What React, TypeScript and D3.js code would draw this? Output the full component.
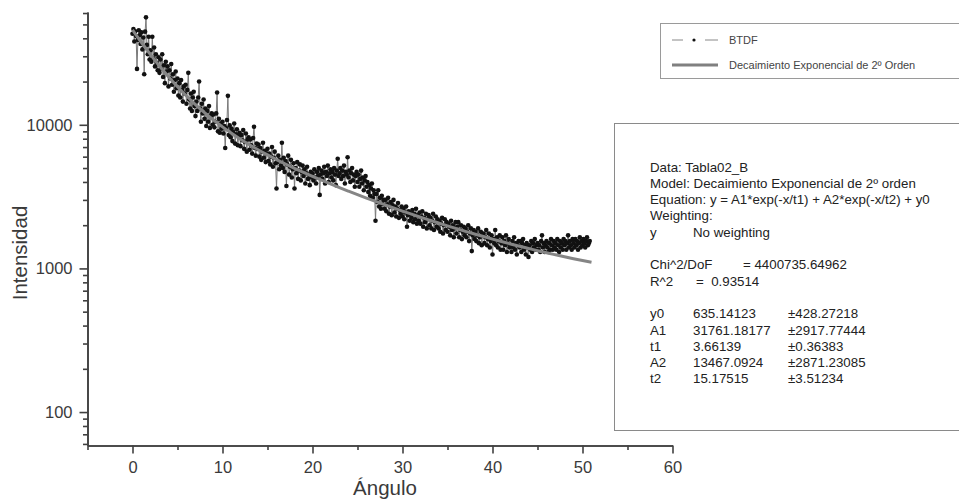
import React, { useEffect, useRef } from 'react';
import * as d3 from 'd3';

const width = 959;
const height = 502;
const font = '"Liberation Sans", Arial, sans-serif';
const axisColor = '#404040';

// BTDF, one reading every 0.1 degree (0 .. 50.8)
const step = 0.1;
const btdf = [
  43000, 46500, 38000, 44800, 41500, 24500, 39000, 45500, 42000, 36500,
  44000, 33500, 40500, 22500, 44500, 56000, 36000, 31000, 41000, 28500,
  33000, 27500, 41000, 29000, 34500, 25500, 31000, 27000, 24000, 29500,
  23000, 28500, 24500, 31000, 21500, 26000, 19500, 27500, 23500, 25500,
  18500, 24000, 21000, 26500, 19000, 22500, 17000, 20500, 23500, 18000,
  21000, 16000, 19500, 15500, 20500, 17500, 14500, 18500, 16500, 19000,
  14000, 17500, 23000, 15000, 13000, 16500, 12500, 15500, 17000, 13500,
  11500, 14500, 12500, 15500, 20000, 13000, 10500, 14000, 12000, 15000,
  11000, 13000, 9800, 12500, 10500, 13500, 9500, 11500, 12000, 10000,
  11800, 9600, 10500, 12000, 16800, 9000, 11000, 8800, 10200, 9400,
  10500, 8700, 9800, 6900, 9500, 10800, 15900, 8500, 9900, 8200,
  9400, 7700, 8900, 10200, 7400, 8600, 9300, 7200, 8300, 8800,
  7100, 8500, 7800, 9200, 6800, 7600, 8700, 6500, 7900, 8200,
  6700, 7900, 7200, 6300, 8100, 9700, 6900, 6100, 7400, 6800,
  7300, 6000, 6900, 5700, 6500, 7500, 5900, 6600, 5500, 6300,
  6800, 5600, 6300, 5300, 6000, 7000, 5100, 5900, 6500, 5400,
  3600, 5500, 6100, 4900, 5700, 5200, 7500, 5000, 5900, 4700,
  5600, 3750, 5300, 6100, 4500, 5100, 5700, 4300, 4900, 5400,
  3600, 5000, 4600, 5500, 4200, 4800, 5300, 4100, 4700, 5200,
  4400, 4900, 3900, 4600, 5100, 4200, 4500, 3800, 4700, 4300,
  4600, 4100, 4900, 4300, 3900, 4700, 4400, 5000, 3250, 4500,
  4800, 4200, 4600, 5100, 3900, 4700, 4400, 5200, 4000, 4600,
  4900, 4300, 4700, 4100, 5000, 4500, 3800, 4800, 5800, 4400,
  4600, 5000, 4200, 4800, 4400, 5200, 3900, 4700, 4500, 5950,
  4300, 4800, 4000, 4600, 5000, 4100, 4500, 3700, 4400, 4700,
  4000, 4500, 3700, 4200, 4800, 3900, 4300, 3500, 4100, 4400,
  3700, 4000, 3400, 3800, 3200, 3600, 3900, 3100, 3500, 3300,
  2150, 3300, 2900, 3500, 2700, 3100, 2600, 3200, 2800, 3000,
  2600, 3000, 2500, 2800, 3100, 2400, 2700, 2900, 2350, 2750,
  3000, 2450, 2700, 2300, 2600, 2850, 2250, 2550, 2400, 2700,
  2300, 2600, 2200, 2450, 2700, 1950, 2350, 2500, 2150, 2400,
  2250, 2550, 2100, 2400, 2200, 2600, 2050, 2350, 2150, 2450,
  2050, 2300, 2500, 1950, 2250, 2100, 2400, 1900, 2200, 2350,
  2000, 2250, 1900, 2150, 2400, 1850, 2100, 2300, 1950, 2200,
  1900, 2150, 1800, 2050, 2250, 1750, 2000, 2200, 1850, 2100,
  1800, 2050, 1950, 1700, 2150, 1850, 2000, 1650, 1900, 2100,
  1750, 1950, 2100, 1650, 1850, 2000, 1600, 1800, 1950, 1700,
  1900, 1650, 1800, 2000, 1550, 1750, 1900, 1320, 1700, 1850,
  1600, 1800, 1550, 1700, 1900, 1500, 1650, 1800, 1450, 1700,
  1750, 1500, 1650, 1850, 1450, 1600, 1750, 1400, 1550, 1700,
  1250, 1600, 1500, 1850, 1450, 1650, 1400, 1550, 1700, 1350,
  1500, 1650, 1350, 1550, 1450, 1700, 1300, 1500, 1600, 1400,
  1450, 1300, 1550, 1400, 1650, 1350, 1500, 1250, 1450, 1550,
  1400, 1550, 1300, 1500, 1600, 1350, 1450, 1250, 1500, 1400,
  1200, 1450, 1350, 1550, 1300, 1500, 1400, 1600, 1350, 1450,
  1500, 1350, 1450, 1300, 1550, 1700, 1400, 1500, 1300, 1450,
  1550, 1400, 1300, 1500, 1350, 1600, 1450, 1350, 1550, 1400,
  1500, 1350, 1600, 1450, 1300, 1550, 1400, 1500, 1350, 1600,
  1450, 1550, 1350, 1500, 1700, 1400, 1550, 1450, 1350, 1600,
  1500, 1400, 1600, 1450, 1550, 1350, 1500, 1650, 1400, 1550,
  1450, 1600, 1500, 1400, 1550, 1650, 1450, 1500, 1550
];

// fitted curve, sampled every degree
const fitAngles = [
  0, 1, 2, 3, 4, 5, 6, 7, 8, 9, 10, 11, 12, 13, 14, 15, 16, 17, 18, 19, 20,
  21, 22, 23, 24, 25, 26, 27, 28, 29, 30, 31, 32, 33, 34, 35, 36, 37, 38, 39,
  40, 41, 42, 43, 44, 45, 46, 47, 48, 49, 50, 51
];
const fitValues = [
  45863, 37413, 30832, 25682, 21633, 18427, 15872, 13820, 12156, 10795, 9671,
  8732, 7940, 7265, 6682, 6175, 5729, 5334, 4981, 4663, 4375,
  4113, 3873, 3652, 3450, 3262, 3089, 2928, 2778, 2639, 2509,
  2388, 2275, 2170, 2071, 1979, 1893, 1812, 1737, 1667, 1601,
  1539, 1481, 1427, 1377, 1329, 1285, 1244, 1205, 1169, 1135, 1103
];

const xTicks = [0, 10, 20, 30, 40, 50, 60];
const xMinorTicks = [-5, 5, 15, 25, 35, 45, 55];
const yTicks = [100, 1000, 10000];
const yMinorTicks = [
  60, 70, 80, 90, 200, 300, 400, 500, 600, 700, 800, 900,
  2000, 3000, 4000, 5000, 6000, 7000, 8000, 9000,
  20000, 30000, 40000, 50000, 60000
];

const legendLabels = ['BTDF', 'Decaimiento Exponencial de 2º Orden'];

const reportLines = [
  'Data: Tabla02_B',
  'Model: Decaimiento Exponencial de 2º orden',
  'Equation: y = A1*exp(-x/t1) + A2*exp(-x/t2) + y0',
  'Weighting:'
];
const paramNames = ['y0', 'A1', 't1', 'A2', 't2'];
const paramValues = ['635.14123', '31761.18177', '3.66139', '13467.0924', '15.17515'];
const paramErrors = ['±428.27218', '±2917.77444', '±0.36383', '±2871.23085', '±3.51234'];

const x = d3.scaleLinear().domain([-5, 60]).range([87.5, 672.5]);
const y = d3.scaleLog().domain([58.5, 61000]).range([445.5, 12]);

const App = () => {
  const xAxisRef = useRef<SVGGElement>(null);
  const yAxisRef = useRef<SVGGElement>(null);
  const xMinorRef = useRef<SVGGElement>(null);
  const yMinorRef = useRef<SVGGElement>(null);

  useEffect(() => {
    const style = (g: any) => {
      g.attr('font-family', font).attr('font-size', 16.5);
      g.selectAll('path, line').attr('stroke', axisColor).attr('stroke-width', 1.6);
      g.selectAll('text').attr('fill', '#3a3a3a');
    };
    d3.select(xAxisRef.current)
      .call(d3.axisBottom(x).tickValues(xTicks).tickSize(8).tickPadding(8).tickSizeOuter(0).tickFormat(d3.format('d')) as any)
      .call(style);
    d3.select(xMinorRef.current)
      .call(d3.axisBottom(x).tickValues(xMinorTicks).tickSize(4.5).tickSizeOuter(0).tickFormat(() => '') as any)
      .call(style);
    d3.select(yAxisRef.current)
      .call(d3.axisLeft(y).tickValues(yTicks).tickSize(8).tickPadding(7).tickSizeOuter(0).tickFormat(d3.format('d')) as any)
      .call(style);
    d3.select(yMinorRef.current)
      .call(d3.axisLeft(y).tickValues(yMinorTicks).tickSize(4.5).tickSizeOuter(0).tickFormat(() => '') as any)
      .call(style);
  }, []);

  const points = btdf.map((v, i) => [i * step, v] as [number, number]);
  const dataLine = d3.line<[number, number]>().x(d => x(d[0])).y(d => y(d[1]));
  const fitLine = d3.line<number>()
    .x((d, i) => x(fitAngles[i]))
    .y(d => y(d))
    .curve(d3.curveMonotoneX);

  const rowY = (i: number) => 171.5 + i * 16.3;

  return (
    <div style={{ position: 'fixed', left: 0, top: 0 }}>
      <svg width={width} height={height} style={{ display: 'block', background: '#fff' }} fontFamily={font}>
        <path d={dataLine(points) || ''} fill="none" stroke="#7a7a7a" strokeWidth={1} />
        {points.map((d, i) => (
          <circle key={i} cx={x(d[0])} cy={y(d[1])} r={2.3} fill="#111" />
        ))}
        <path d={fitLine(fitValues) || ''} fill="none" stroke="#858585" strokeWidth={3} />

        <g ref={xMinorRef} transform={`translate(0, ${y.range()[0]})`} />
        <g ref={xAxisRef} transform={`translate(0, ${y.range()[0]})`} />
        <g ref={yMinorRef} transform={`translate(${x.range()[0]}, 0)`} />
        <g ref={yAxisRef} transform={`translate(${x.range()[0]}, 0)`} />

        <text x={385} y={495} textAnchor="middle" fontSize={20.5} fill="#3a3a3a">Ángulo</text>
        <text transform="translate(27, 253) rotate(-90)" textAnchor="middle" fontSize={20.5} fill="#3a3a3a">Intensidad</text>

        {/* legend */}
        <rect x={660.5} y={23.5} width={320} height={55} fill="#fff" stroke="#9a9a9a" />
        <line x1={672} x2={683} y1={40} y2={40} stroke="#888" strokeWidth={1} />
        <line x1={705} x2={718} y1={40} y2={40} stroke="#888" strokeWidth={1} />
        <circle cx={694} cy={40} r={1.6} fill="#111" />
        <line x1={672} x2={718} y1={65} y2={65} stroke="#808080" strokeWidth={3} />
        {legendLabels.map((l, i) => (
          <text key={l} x={729} y={44 + i * 25} fontSize={11} fill="#444">{l}</text>
        ))}

        {/* fit report */}
        <rect x={614.5} y={123.5} width={360} height={307} fill="#fff" stroke="#8a8a8a" />
        <g fontSize={13.3} fill="#222">
          {reportLines.map((l, i) => (
            <text key={l} x={650} y={rowY(i)}>{l}</text>
          ))}
          <text x={650} y={rowY(4)}>y</text>
          <text x={693} y={rowY(4)}>No weighting</text>
          <text x={650} y={rowY(6)}>Chi^2/DoF</text>
          <text x={743} y={rowY(6)}>= 4400735.64962</text>
          <text x={650} y={rowY(7)}>R^2</text>
          <text x={696} y={rowY(7)} style={{ whiteSpace: 'pre' }}>=  0.93514</text>
          {paramNames.map((n, i) => (
            <g key={n}>
              <text x={650} y={rowY(9 + i)}>{n}</text>
              <text x={693} y={rowY(9 + i)}>{paramValues[i]}</text>
              <text x={788} y={rowY(9 + i)}>{paramErrors[i]}</text>
            </g>
          ))}
        </g>
      </svg>
    </div>
  );
};

export default App;
